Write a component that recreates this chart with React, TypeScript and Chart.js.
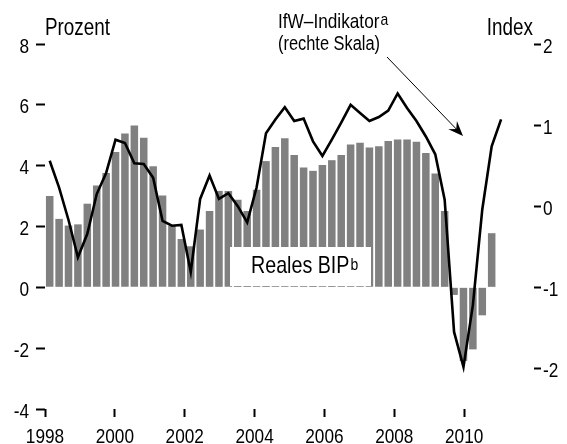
import React, { useEffect, useRef } from 'react';
import { Chart, registerables } from 'chart.js';

Chart.register(...registerables);

const years = [1998, 1999, 2000, 2001, 2002, 2003, 2004, 2005, 2006, 2007, 2008, 2009, 2010];
const quarterNames = ['Q1', 'Q2', 'Q3', 'Q4'];
const quarters = years.flatMap((y) => quarterNames.map((q) => `${y} ${q}`));

// Reales BIP (Prozent, linke Skala), 1998 Q1 – 2009 Q4
const gdp = [
  3.0, 2.25, 2.03, 2.07,
  2.75, 3.35, 3.76, 4.45,
  5.06, 5.32, 4.92, 3.98,
  3.02, 2.03, 1.59, 1.35,
  1.9, 2.51, 3.17, 3.17,
  2.88, 2.51, 3.21, 4.15,
  4.61, 4.9, 4.35, 3.94,
  3.83, 4.02, 4.18, 4.35,
  4.7, 4.75, 4.6, 4.64,
  4.81, 4.86, 4.86, 4.79,
  4.42, 3.74, 2.51, -0.25,
  -2.42, -2.04, -0.92, 1.78,
];

// IfW-Indikator (Index, rechte Skala), 1998 Q1 – 2010 Q1
const ifw = [
  0.56, 0.23, -0.17, -0.63,
  -0.34, 0.15, 0.41, 0.82,
  0.78, 0.53, 0.52, 0.35,
  -0.18, -0.24, -0.23, -0.81,
  0.09, 0.38, 0.09, 0.16,
  0.0, -0.2, 0.23, 0.9,
  1.07, 1.22, 1.05, 1.08,
  0.8, 0.62, 0.82, 1.03,
  1.25, 1.15, 1.05, 1.1,
  1.18, 1.39, 1.21, 1.05,
  0.86, 0.64, 0.08, -1.55,
  -1.98, -1.22, -0.04, 0.74,
  1.07,
];

const yearTicks = [1998, 2000, 2002, 2004, 2006, 2008, 2010];
const leftTicks = [-4, -2, 0, 2, 4, 6, 8];
const rightTicks = [-2, -1, 0, 1, 2];

const BASE_FONT = "'Liberation Sans', Arial, Helvetica, sans-serif";
const NARROW = 0.82;

function narrowText(
  ctx: CanvasRenderingContext2D,
  text: string,
  x: number,
  y: number,
  size: number,
  align: 'left' | 'right' | 'center' = 'left'
): number {
  ctx.save();
  ctx.font = `${size}px ${BASE_FONT}`;
  const w = ctx.measureText(text).width * NARROW;
  const x0 = align === 'right' ? x - w : align === 'center' ? x - w / 2 : x;
  ctx.translate(x0, y);
  ctx.scale(NARROW, 1);
  ctx.textAlign = 'left';
  ctx.textBaseline = 'alphabetic';
  ctx.fillText(text, 0, 0);
  ctx.restore();
  return w;
}

export default function App() {
  const ref = useRef<HTMLCanvasElement>(null);

  useEffect(() => {
    const canvas = ref.current!;

    const annot = {
      id: 'annot',
      afterDatasetsDraw(chart: any) {
        const ctx = chart.ctx as CanvasRenderingContext2D;
        const { left, right } = chart.chartArea;
        const sx = chart.scales.xYears;
        const sl = chart.scales.yL;
        const sr = chart.scales.yR;
        ctx.save();
        ctx.fillStyle = '#000';

        // tick labels
        yearTicks.forEach((v) => narrowText(ctx, String(v), sx.getPixelForValue(v), 442.5, 21, 'center'));
        leftTicks.forEach((v) => narrowText(ctx, String(v), 29, sl.getPixelForValue(v) + 8.5, 21, 'right'));
        rightTicks.forEach((v) => narrowText(ctx, String(v), 543, sr.getPixelForValue(v) + 8.5, 21, 'left'));

        // axis titles
        narrowText(ctx, 'Prozent', left, 35, 23, 'left');
        narrowText(ctx, 'Index', right - 1, 35, 23, 'right');

        // indicator title
        const w1 = narrowText(ctx, 'IfW\u2013Indikator', 278, 28, 21, 'left');
        narrowText(ctx, 'a', 278 + w1 + 1, 25, 17, 'left');
        narrowText(ctx, '(rechte Skala)', 278, 50, 20, 'left');

        // arrow
        const x0 = 387, y0 = 57, x1 = 463, y1 = 136;
        const ang = Math.atan2(y1 - y0, x1 - x0);
        ctx.strokeStyle = '#000';
        ctx.lineWidth = 1;
        ctx.beginPath();
        ctx.moveTo(x0, y0);
        ctx.lineTo(x1 - 8 * Math.cos(ang), y1 - 8 * Math.sin(ang));
        ctx.stroke();
        const L = 15, W = 6;
        const bx = x1 - L * Math.cos(ang), by = y1 - L * Math.sin(ang);
        const nx = x1 - L * 0.65 * Math.cos(ang), ny = y1 - L * 0.65 * Math.sin(ang);
        ctx.beginPath();
        ctx.moveTo(x1, y1);
        ctx.lineTo(bx + W * Math.sin(ang), by - W * Math.cos(ang));
        ctx.lineTo(nx, ny);
        ctx.lineTo(bx - W * Math.sin(ang), by + W * Math.cos(ang));
        ctx.closePath();
        ctx.fill();

        // label box for bars
        ctx.fillStyle = '#fff';
        ctx.fillRect(230, 247, 141, 39);
        ctx.fillStyle = '#000';
        const w2 = narrowText(ctx, 'Reales BIP', 251, 273, 24, 'left');
        narrowText(ctx, 'b', 251 + w2 + 1, 270, 17, 'left');
        ctx.restore();
      },
    };

    const gridTicks = (len: number) => ({
      display: true,
      drawOnChartArea: false,
      drawTicks: true,
      tickLength: len,
      tickColor: '#000',
      tickWidth: 2,
      offset: false,
    });

    const chart = new Chart(canvas, {
      type: 'bar',
      data: {
        labels: quarters,
        datasets: [
          {
            type: 'line',
            data: ifw,
            xAxisID: 'x',
            yAxisID: 'yR',
            borderColor: '#000',
            borderWidth: 2.6,
            pointRadius: 0,
            tension: 0,
            fill: false,
            order: 0,
          } as any,
          {
            type: 'bar',
            data: gdp,
            xAxisID: 'x',
            yAxisID: 'yL',
            backgroundColor: '#808080',
            borderWidth: 0,
            barPercentage: 0.8,
            categoryPercentage: 1,
            order: 1,
          } as any,
        ],
      },
      options: {
        responsive: false,
        animation: false,
        layout: { padding: { top: 44, left: 0, right: 0, bottom: 0 } },
        plugins: { legend: { display: false }, tooltip: { enabled: false } },
        scales: {
          x: { type: 'category', display: false, offset: true },
          xYears: {
            type: 'linear',
            position: 'bottom',
            min: 1998,
            max: 2012,
            offset: false,
            afterBuildTicks: (a: any) => {
              a.ticks = yearTicks.map((v) => ({ value: v }));
            },
            afterFit: (a: any) => {
              a.height = 35;
            },
            grid: gridTicks(8),
            border: { display: false },
            ticks: { display: false },
          },
          yL: {
            type: 'linear',
            position: 'left',
            min: -4,
            max: 8,
            offset: false,
            afterBuildTicks: (a: any) => {
              a.ticks = leftTicks.map((v) => ({ value: v }));
            },
            afterFit: (a: any) => {
              a.width = 45;
            },
            grid: gridTicks(9),
            border: { display: false },
            ticks: { display: false },
          },
          yR: {
            type: 'linear',
            position: 'right',
            min: -2.5,
            max: 2,
            offset: false,
            afterBuildTicks: (a: any) => {
              a.ticks = rightTicks.map((v) => ({ value: v }));
            },
            afterFit: (a: any) => {
              a.width = 33;
            },
            grid: gridTicks(7),
            border: { display: false },
            ticks: { display: false },
          },
        },
      } as any,
      plugins: [annot],
    });

    return () => chart.destroy();
  }, []);

  return (
    <div style={{ position: 'fixed', left: 0, top: 0, width: 567, height: 444, background: '#fff' }}>
      <canvas ref={ref} width={567} height={444} style={{ display: 'block' }} />
    </div>
  );
}
